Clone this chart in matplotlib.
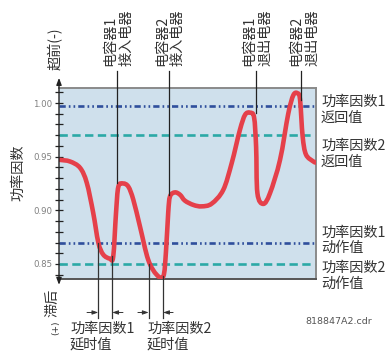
import matplotlib
matplotlib.use("Agg")
import matplotlib.pyplot as plt
from matplotlib.path import Path
from matplotlib.patches import PathPatch

plt.rcParams['font.family'] = ['Noto Sans CJK SC', 'DejaVu Sans']
plt.rcParams['lines.scale_dashes'] = False

# Power factor trace over time (arbitrary time units)
time = [0.4, 4.3, 8.2, 10.8, 13.3, 15.3, 17.2, 19.8, 21.1, 22.2, 23.1, 25.0, 27.0,
        28.9, 31.5, 34.7, 38.0, 40.6, 41.6, 42.5, 43.2, 45.1, 47.1, 49.0, 52.3,
        55.5, 59.4, 63.9, 67.2, 70.4, 72.4, 74.3, 75.9, 76.7, 77.2, 79.5, 82.1,
        86.0, 89.2, 91.2, 92.9, 93.8, 94.8, 96.1, 99.0, 100.0]
power_factor = [0.947, 0.9455, 0.9396, 0.9257, 0.8978, 0.870, 0.8588, 0.855, 0.857,
                0.898, 0.922, 0.925, 0.922, 0.910, 0.885, 0.854, 0.840, 0.8386,
                0.8607, 0.898, 0.913, 0.9167, 0.9145, 0.909, 0.905, 0.9037, 0.9062,
                0.919, 0.944, 0.975, 0.989, 0.991, 0.9867, 0.959, 0.916, 0.906,
                0.916, 0.947, 0.990, 1.0074, 1.009, 1.003, 0.969, 0.952, 0.9455,
                0.9445]

# Thresholds
pf1_reset, pf2_reset = 0.9975, 0.970
pf1_pickup, pf2_pickup = 0.870, 0.850

# Switching events: (time, curve level)
cap_events_t = [22.7, 42.8, 76.5, 94.2]
cap_events_pf = [0.9257, 0.9145, 0.9907, 1.003]
cap_labels = ["电容器1\n接入电器", "电容器2\n接入电器", "电容器1\n退出电器", "电容器2\n退出电器"]

# Delay markers: (time, level where the marker starts)
delay_t = [15.3, 20.7, 34.9, 40.5]
delay_pf = [0.870, 0.857, 0.850, 0.8386]
delay_labels = ["功率因数1\n延时值", "功率因数2\n延时值"]

threshold_labels = ["功率因数1\n返回值", "功率因数2\n返回值", "功率因数1\n动作值", "功率因数2\n动作值"]

yticks = [0.85, 0.90, 0.95, 1.00]
ytick_labels = ["0.85", "0.90", "0.95", "1.00"]

W, H = 389, 352
fig = plt.figure(figsize=(W / 100, H / 100), dpi=100)
ax = fig.add_axes([59 / W, 1 - 279 / H, (316 - 59) / W, (279 - 88) / H])
ax.set_facecolor("#cfe0ec")
ax.set_xlim(0, 100)
ax.set_ylim(0.836, 1.014)

blue = "#2f4f9c"
teal = "#2ba9a6"
dashdotdot = (4.5, 2.2, 1.2, 2.2, 1.2, 2.2)
ax.axhline(pf1_reset, color=blue, lw=1.9, dashes=dashdotdot)
ax.axhline(pf2_reset, color=teal, lw=1.9, dashes=(6, 3.2))
ax.axhline(pf1_pickup, color=blue, lw=1.9, dashes=dashdotdot)
ax.axhline(pf2_pickup, color=teal, lw=1.9, dashes=(6, 3.2))


def smooth_path(xs, ys):
    """Catmull-Rom curve through the points, expressed as cubic Bezier segments."""
    pts = list(zip(xs, ys))
    n = len(pts)
    verts = [pts[0]]
    codes = [Path.MOVETO]
    for i in range(n - 1):
        p0 = pts[i - 1] if i > 0 else pts[i]
        p1 = pts[i]
        p2 = pts[i + 1]
        p3 = pts[i + 2] if i + 2 < n else pts[i + 1]
        c1 = (p1[0] + (p2[0] - p0[0]) / 6, p1[1] + (p2[1] - p0[1]) / 6)
        c2 = (p2[0] - (p3[0] - p1[0]) / 6, p2[1] - (p3[1] - p1[1]) / 6)
        verts += [c1, c2, p2]
        codes += [Path.CURVE4] * 3
    return Path(verts, codes)


curve = PathPatch(smooth_path(time, power_factor), facecolor="none",
                  edgecolor="#e5404a", lw=3.3, joinstyle="round", capstyle="round",
                  zorder=3)
ax.add_patch(curve)

# Vertical event lines rising above the plot
for t, p in zip(cap_events_t, cap_events_pf):
    ax.plot([t, t], [p, 1.0297], color="#222222", lw=0.9, clip_on=False, zorder=4)

# Delay marker lines dropping below the plot
for t, p in zip(delay_t, delay_pf):
    ax.plot([t, t], [p, 0.800], color="#333333", lw=0.9, clip_on=False, zorder=4)

arrow_y = 0.8048
arrow_pairs = [(10.9, 15.3), (24.9, 20.7), (30.7, 34.9), (44.4, 40.5)]
for x0, x1 in arrow_pairs:
    ax.annotate("", xy=(x1, arrow_y), xytext=(x0, arrow_y), annotation_clip=False,
                arrowprops=dict(arrowstyle="-|>,head_length=0.35,head_width=0.12",
                                color="#333333", lw=0.7, shrinkA=0, shrinkB=0))

# Spines and ticks
for side in ["top", "right"]:
    ax.spines[side].set_color("#8a8a8a")
    ax.spines[side].set_linewidth(1.4)
ax.spines["bottom"].set_color("#555555")
ax.spines["bottom"].set_linewidth(1.4)
ax.spines["left"].set_visible(False)
ax.set_xticks([])
ax.set_yticks(yticks)
ax.set_yticklabels(ytick_labels, fontsize=6.2, color="#808080", family="DejaVu Sans")
ax.set_yticks([v / 100 for v in range(84, 102)], minor=True)
ax.tick_params(axis="y", which="both", direction="inout", length=6, width=0.9,
               color="#222222", pad=2)

# Vertical axis with arrows at both ends
ax.annotate("", xy=(0, 1.0235), xytext=(0, 0.93), annotation_clip=False,
            arrowprops=dict(arrowstyle="-|>,head_length=0.4,head_width=0.15",
                            color="#222222", lw=1.0, shrinkA=0, shrinkB=0))
ax.annotate("", xy=(0, 0.8305), xytext=(0, 0.93), annotation_clip=False,
            arrowprops=dict(arrowstyle="-|>,head_length=0.4,head_width=0.15",
                            color="#222222", lw=1.0, shrinkA=0, shrinkB=0))


def fx(px):
    return px / W


def fy(py):
    return 1 - py / H


txt = "#333333"
fs = 10.2

fig.text(fx(18), fy(173), "功率因数", rotation=90, ha="center", va="center",
         fontsize=fs, color=txt)
fig.text(fx(55), fy(49), "超前(-)", rotation=90, ha="center", va="center",
         fontsize=fs, color=txt)
fig.text(fx(52), fy(303), "滞后", rotation=90, ha="center", va="center",
         fontsize=fs, color=txt)
fig.text(fx(56), fy(328), "(+)", rotation=90, ha="center", va="center",
         fontsize=6.5, color=txt, family="DejaVu Sans")

cap_label_x = [118.5, 170, 257.5, 304.5]
for x, lab in zip(cap_label_x, cap_labels):
    fig.text(fx(x), fy(66), lab, rotation=90, ha="center", va="bottom",
             multialignment="left", fontsize=fs, color=txt, linespacing=1.15)

threshold_y = [110, 154, 240.5, 276]
for y, lab in zip(threshold_y, threshold_labels):
    fig.text(fx(321), fy(y), lab, ha="left", va="center", fontsize=fs,
             color=txt, linespacing=1.15)

delay_label_x = [70, 147]
for x, lab in zip(delay_label_x, delay_labels):
    fig.text(fx(x), fy(322), lab, ha="left", va="top", fontsize=fs,
             color=txt, linespacing=1.15)

fig.text(fx(305), fy(322), "818847A2.cdr", ha="left", va="center", fontsize=6.8,
         color="#555555", family="DejaVu Sans")

fig.savefig("out.png", dpi=100)
